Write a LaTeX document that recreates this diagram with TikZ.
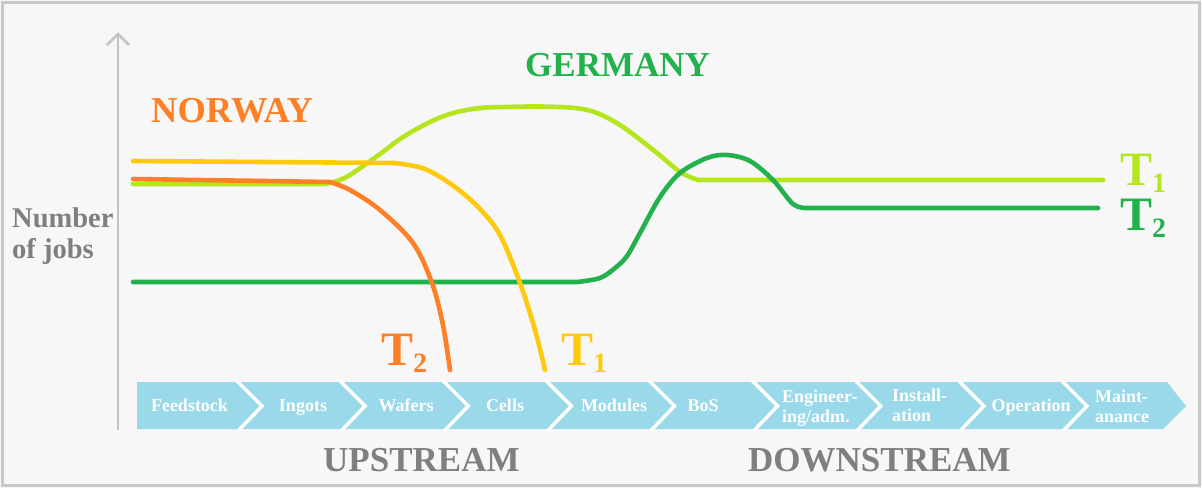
\documentclass[tikz,border=0pt]{standalone}
\usepackage{fontspec}
\setmainfont{Liberation Serif}
\definecolor{bgcol}{HTML}{F7F7F7}
\definecolor{framecol}{HTML}{C8C8C8}
\definecolor{axiscol}{HTML}{C3C3C3}
\definecolor{labelgray}{HTML}{7F7F7F}
\definecolor{chevcol}{HTML}{99D9EA}
\definecolor{norwayorange}{HTML}{FF7F27}
\definecolor{norwayyellow}{HTML}{FFC90E}
\definecolor{germanylime}{HTML}{B5E61D}
\definecolor{germanygreen}{HTML}{22B14C}
\tikzset{
  curve/.style={line width=4.6pt, line cap=round, line join=round},
  stagelabel/.style={text=white, font=\bfseries\fontsize{18}{20}\selectfont, inner sep=0pt, anchor=base},
  twolabel/.style={text=white, font=\bfseries\fontsize{18}{20}\selectfont, inner sep=0pt, anchor=base west, align=left},
  biglabel/.style={font=\bfseries\fontsize{35}{35}\selectfont, inner sep=0pt, anchor=base west},
  tlabel/.style={font=\bfseries, inner sep=0pt, anchor=base west},
  separator/.style={white, line width=3.5pt, line join=miter}
}
\newcommand{\Tsub}[1]{{\fontsize{48}{48}\selectfont T}\raisebox{-7.5pt}{\fontsize{28}{28}\selectfont #1}}
\begin{document}
\begin{tikzpicture}[x=1pt, y=-1pt]
\useasboundingbox (0,0) rectangle (1202,488);
% background and frame
\fill[bgcol] (0,0) rectangle (1202,488);
\draw[framecol, line width=3pt] (2.5,2.5) rectangle (1199.5,485.5);

% vertical axis with open arrow head
\coordinate (axisfoot) at (118,430);
\coordinate (axistop) at (118,34);
\draw[axiscol, line width=2.5pt] (axisfoot) -- (axistop);
\draw[axiscol, line width=2.5pt, line join=miter] (107,45) -- (axistop) -- (129,45);

% multi-line nodes: the base anchor sits on the last line
\node[font=\bfseries\fontsize{28.5}{31}\selectfont, text=labelgray, align=left, inner sep=0pt, anchor=base west] (ylabel) at (12,258) {Number\\of jobs};

% value chain bar
\fill[chevcol] (137,382) -- (1167,382) -- (1186,406) -- (1163,429) -- (137,429) -- cycle;
\foreach \s in {237,340.1,443.25,546.4,649.5,752.6,855.75,958.9,1062}{
  \draw[separator] (\s-1,380) -- (\s+25,406) -- (\s+1,431);
}
\node[stagelabel] (feed) at (189.5,411) {Feedstock};
\node[stagelabel] (ingots) at (303,411) {Ingots};
\node[stagelabel] (wafers) at (406,411) {Wafers};
\node[stagelabel] (cells) at (505,411) {Cells};
\node[stagelabel] (modules) at (614,411) {Modules};
\node[stagelabel] (bos) at (703,411) {BoS};
\node[twolabel] (eng) at (782,422.5) {Engineer-\\ing/adm.};
\node[twolabel] (inst) at (892,421.5) {Install-\\ation};
\node[stagelabel] (oper) at (1031,411) {Operation};
\node[twolabel] (maint) at (1095,422) {Maint-\\anance};

\node[biglabel, text=labelgray] (up) at (323,471) {UPSTREAM};
\node[biglabel, text=labelgray] (down) at (748,471) {DOWNSTREAM};

% job curves
\draw[curve, germanylime] (133,184) -- (325,184) -- plot[smooth, tension=0.55] coordinates {
  (325,184) (340,180) (353,173) (380,154) (403,137) (430,122) (453,113) (480,108) (505,107) (540,106.5) (575,108) (597,113) (623,127) (657,153) (680,172) (698,180)} -- (1103,180);
\draw[curve, germanygreen] (133,282) -- (577,282) -- plot[smooth, tension=0.55] coordinates {
  (577,282) (600,278) (615,268) (627,256) (640,233) (660,197) (680,173) (707,158) (727,155) (750,161) (773,180) (793,204) (806,208)} -- (1098,208);
\draw[curve, norwayyellow] (133,161) -- (395,163) -- plot[smooth, tension=0.55] coordinates {
  (395,163) (425,169) (455,187) (480,209) (500,235) (520,283) (535,330) (545,370)};
\draw[curve, norwayorange] (133,179) -- (330,182) -- plot[smooth, tension=0.55] coordinates {
  (330,182) (350,190) (380,210) (413,243) (432,283) (443,325) (450,370)};

% country and scenario labels
\node[biglabel, font=\bfseries\fontsize{36.5}{36.5}\selectfont, text=norwayorange] (norway) at (151,122) {NORWAY};
\node[biglabel, text=germanygreen] (germany) at (525,76) {GERMANY};
\node[tlabel, text=norwayorange] (nt2) at (381,365) {\Tsub{2}};
\node[tlabel, text=norwayyellow] (nt1) at (561,365) {\Tsub{1}};
\node[tlabel, text=germanylime] (gt1) at (1120,185) {\Tsub{1}};
\node[tlabel, text=germanygreen] (gt2) at (1120,230) {\Tsub{2}};
\end{tikzpicture}
\end{document}
